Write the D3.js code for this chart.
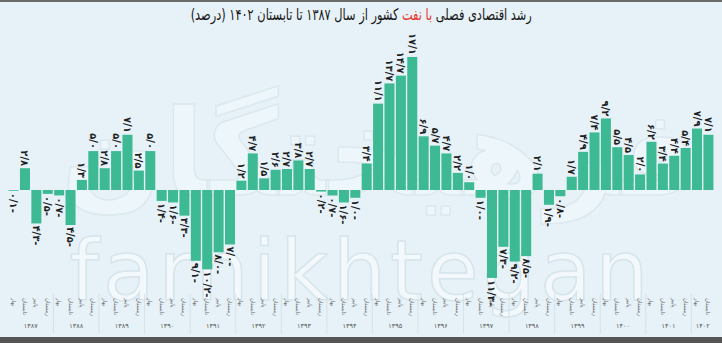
<!DOCTYPE html>
<html><head><meta charset="utf-8">
<script src="https://cdn.jsdelivr.net/npm/d3@7"></script>
<style>
html,body{margin:0;padding:0;background:#e6f2f8;overflow:hidden;}
#wrap{position:relative;width:722px;height:343px;}
#title{position:absolute;left:0;top:5px;width:722px;text-align:center;direction:rtl;font-family:"DejaVu Sans",sans-serif;font-size:16px;color:#161616;white-space:nowrap;}
#title .inner{display:inline-block;transform:scaleX(0.71);transform-origin:center;}
#title .red{color:#e8322b;}
svg{position:absolute;left:0;top:0;}
</style></head>
<body><div id="wrap"></div>
<script>
const yearLabels = ["۱۳۸۷","۱۳۸۸","۱۳۸۹","۱۳۹۰","۱۳۹۱","۱۳۹۲","۱۳۹۳","۱۳۹۴","۱۳۹۵","۱۳۹۶","۱۳۹۷","۱۳۹۸","۱۳۹۹","۱۴۰۰","۱۴۰۱","۱۴۰۲"];
const quarterLabels = ["بهار","تابستان","پاییز","زمستان"];
const growth = [
  -0.1, 2.8, -4.3, -0.5,
  -0.7, -4.5, 1.3, 5.0,
  2.8, 5.0, 7.1, 2.5,
  5.0, -1.4, -1.6, -3.3,
  -9.1, -10.2, -8.0, -7.0,
  1.2, 4.7, 1.5, 2.6,
  2.7, 3.8, 2.7, -0.2,
  -0.7, -1.6, -1.0, 3.4,
  11.1, 13.7, 14.7, 17.1,
  6.9, 5.7, 4.7, 2.2,
  1.0, -1.0, -11.3, -7.3,
  -9.2, -8.5, 2.1, -1.9,
  -0.8, 1.7, 4.9, 7.4,
  9.2, 5.5, 4.5, 2.0,
  6.2, 3.4, 4.4, 5.4,
  7.9, 7.1
];

const W = 722, H = 343;
const periods = growth.map((v, i) => ({ i, year: yearLabels[Math.floor(i / 4)], q: quarterLabels[i % 4], v }));

const faDigits = "۰۱۲۳۴۵۶۷۸۹";
function toFa(n) {
  const s = Math.abs(n).toFixed(1).replace(".", "/").replace(/[0-9]/g, d => faDigits[+d]);
  return n < 0 ? s + "-" : s;
}

const wrap = d3.select("#wrap");
const svg = wrap.append("svg").attr("width", W).attr("height", H);

svg.append("rect").attr("width", W).attr("height", H).attr("fill", "#e6f2f8");

// watermark
svg.append("text").attr("x", 380).attr("y", 195).attr("text-anchor", "middle")
  .attr("font-family", "DejaVu Sans, sans-serif").attr("font-size", 120).attr("font-weight", "bold")
  .attr("fill", "#edf6fa").attr("stroke", "#dbe8ee").attr("stroke-width", 1.5)
  .text("فرهیختگان");
svg.append("text").attr("x", 361).attr("y", 300).attr("text-anchor", "middle")
  .attr("font-family", "DejaVu Sans, sans-serif").attr("font-size", 84)
  .attr("letter-spacing", 4)
  .attr("fill", "#f2f8fb").attr("stroke", "#d6e4eb").attr("stroke-width", 1.5)
  .text("farhikhtegan");

// frame bands
svg.append("rect").attr("x", 0).attr("y", 0).attr("width", W).attr("height", 2).attr("fill", "#6b6b6b");
svg.append("rect").attr("x", 0).attr("y", 337).attr("width", W).attr("height", 6).attr("fill", "#555");

const x = d3.scaleBand().domain(periods.map(d => d.i)).range([8, 714]).paddingInner(0.12).paddingOuter(0.05);
const y = d3.scaleLinear().domain([-15, 20]).range([306.7, 34.4]);

// bars
svg.append("g").selectAll("rect").data(periods).join("rect")
  .attr("x", d => x(d.i))
  .attr("width", x.bandwidth())
  .attr("y", d => y(Math.max(0, d.v)))
  .attr("height", d => Math.abs(y(d.v) - y(0)))
  .attr("fill", "#3dba93");

// value labels
svg.append("g").selectAll("text").data(periods).join("text")
  .attr("transform", d => {
    const cx = x(d.i) + x.bandwidth() / 2;
    const yy = d.v >= 0 ? y(d.v) - 2 : y(d.v) + 2;
    return `translate(${cx},${yy}) rotate(90)`;
  })
  .attr("text-anchor", d => d.v >= 0 ? "end" : "start")
  .attr("dominant-baseline", "central")
  .attr("direction", "ltr")
  .attr("font-family", "DejaVu Sans, sans-serif")
  .attr("font-size", 10)
  .attr("font-weight", "bold")
  .attr("fill", "#1e1e1e")
  .text(d => toFa(d.v));

// quarter labels
svg.append("g").selectAll("text").data(periods).join("text")
  .attr("transform", d => `translate(${x(d.i) + x.bandwidth() / 2},298) rotate(90)`)
  .attr("text-anchor", "start")
  .attr("dominant-baseline", "central")
  .attr("font-family", "DejaVu Sans, sans-serif")
  .attr("font-size", 5.5)
  .attr("fill", "#666")
  .text(d => d.q);

// year labels and separators
yearLabels.forEach((yl, k) => {
  const idx = periods.filter(p => p.year === yl).map(p => p.i);
  const x0 = x(idx[0]), x1 = x(idx[idx.length - 1]) + x.bandwidth();
  svg.append("text").attr("x", (x0 + x1) / 2).attr("y", 328)
    .attr("text-anchor", "middle").attr("font-family", "DejaVu Sans, sans-serif")
    .attr("font-size", 6.5).attr("fill", "#555").text(yl);
  if (k > 0) {
    const sx = x0 - x.step() * x.paddingInner() / 2;
    svg.append("line").attr("x1", sx).attr("x2", sx).attr("y1", 294).attr("y2", 334)
      .attr("stroke", "#d0dde4").attr("stroke-width", 0.8);
  }
});

// title
const title = wrap.append("div").attr("id", "title").append("span").attr("class", "inner");
title.append("span").text("رشد اقتصادی فصلی ");
title.append("span").attr("class", "red").text("با نفت");
title.append("span").text(" کشور از سال ۱۳۸۷ تا تابستان ۱۴۰۲ (درصد)");
</script>
</body></html>
